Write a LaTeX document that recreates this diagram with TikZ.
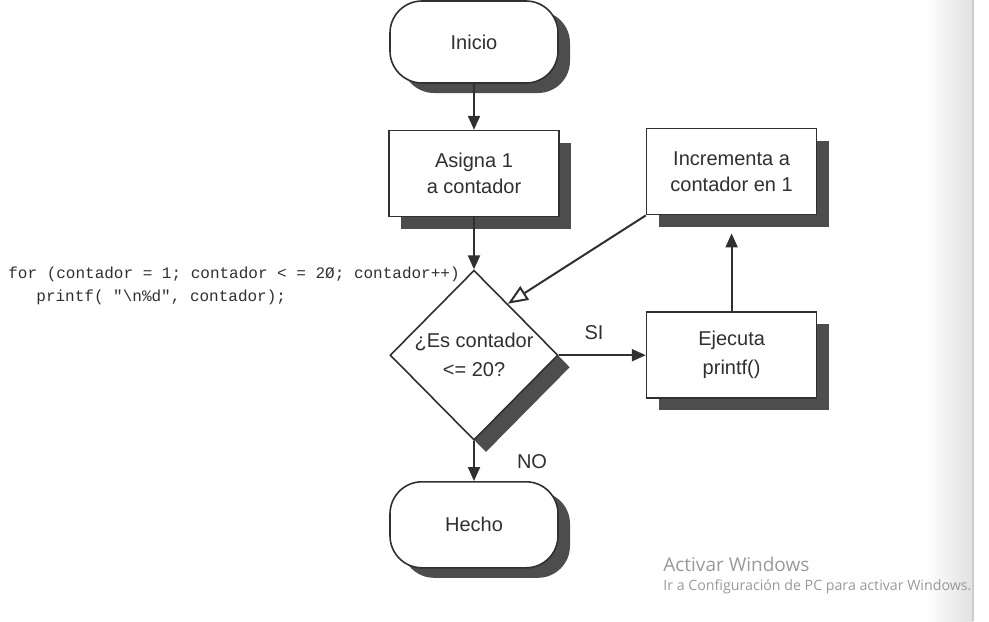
\documentclass[tikz,border=0pt]{standalone}
\usepackage{fontspec}
\setmainfont{Liberation Sans}
\setmonofont{Liberation Mono}
\newfontfamily\winfont{Open Sans}
\usetikzlibrary{positioning,shapes.geometric,shadows,arrows.meta,calc}
\definecolor{ink}{HTML}{303030}
\definecolor{shadowgray}{HTML}{4d4d4d}
\begin{document}
\begin{tikzpicture}[x=0.5pt, y=-0.5pt, font=\fontsize{10}{13}\selectfont, text=ink,
		>={Triangle[length=7pt,width=6pt]},
		term/.style={draw=ink, thick, fill=white, rounded corners=16pt, minimum width=84pt, minimum height=41pt,
			drop shadow={shadow xshift=6pt, shadow yshift=-5pt, fill=shadowgray, opacity=1}},
		proc/.style={draw=ink, thick, fill=white, minimum width=85pt, minimum height=43pt, align=center,
			drop shadow={shadow xshift=6pt, shadow yshift=-6pt, fill=shadowgray, opacity=1}},
		cond/.style={draw=ink, thick, fill=white, diamond, minimum width=84pt, minimum height=85pt, inner sep=0pt,
			align=center, font=\fontsize{10}{14.5}\selectfont,
			drop shadow={shadow xshift=6pt, shadow yshift=-6pt, fill=shadowgray, opacity=1}},
		flow/.style={->, draw=ink, line width=1pt},
		lbl/.style={inner sep=0pt},
		code/.style={anchor=west, inner sep=0pt, font=\fontsize{8}{10}\ttfamily},
		win/.style={anchor=west, inner sep=0pt, text=black!40}]
	\useasboundingbox (0,0) rectangle (989,621);
	\shade[left color=white, right color=black!12] (925,0) rectangle (973,621);
	\draw[black!20, line width=0.6pt] (973,0) -- (973,621);
	% flowchart
	\node[term] (1) at (474,42) {Inicio};
	\node[proc] (2) [below=23pt of 1] {Asigna 1\\a contador};
	\node[cond] (3) [below=26pt of 2] {¿Es contador\\<= 20?};
	\node[term, minimum height=43pt] (4) [below=20pt of 3] {Hecho};
	\node[proc, font=\fontsize{10}{14.5}\selectfont] (5) [right=43.5pt of 3] {Ejecuta\\printf()};
	\node[proc] (6) [above=48pt of 5] {Incrementa a\\contador en 1};
	\draw[flow] (1) -- (2);
	\draw[flow] (2) -- (3);
	\draw[flow] (3) -- (5);
	\draw[flow, shorten >=9pt] (5) -- (6);
	\draw[flow, -{Triangle[open,length=10pt,width=8pt]}] (6.south west) -- ($(3.north)!0.4!(3.east)$);
	\draw[flow] (3) -- (4);
	\node[lbl] (si) at (594,333) {SI};
	\node[lbl] (no) at (532,462) {NO};
	% code
	\node[code] (c1) at (8,274) {for (contador = 1; contador < = 2Ø; contador++)};
	\node[code] (c2) at (36,297) {printf( "\textbackslash n\%d", contador);};
	% watermark
	\node[win, font=\winfont\fontsize{9.5}{11}\selectfont] (w1) at (663,564) {Activar Windows};
	\node[win, font=\winfont\fontsize{7.1}{8}\selectfont] (w2) at (663,587) {Ir a Configuración de PC para activar Windows.};
\end{tikzpicture}
\end{document}
